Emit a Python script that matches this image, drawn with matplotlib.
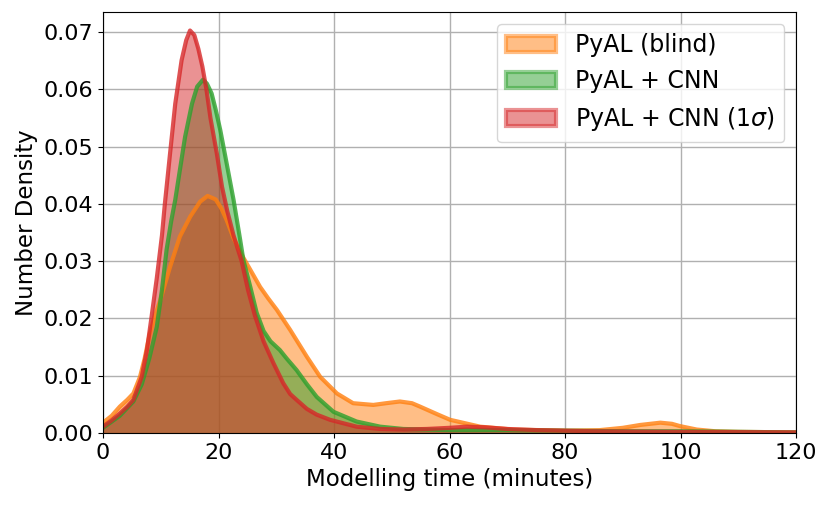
import matplotlib
matplotlib.use('Agg')
import matplotlib.pyplot as plt
from matplotlib.patches import Patch

# densities (x in minutes)
blind_x = [0, 1.5, 2.9, 4.2, 5.25, 6.4, 7.2, 8.1, 9.0, 9.9, 11.6, 13.3, 15.1, 16.8, 18.1,
           19.5, 20.5, 21.4, 22.6, 24.3, 25.5, 27.2, 28.6, 30.1, 32.4, 35.3, 37.6, 40.5,
           43.3, 46.8, 49, 51.4, 53.5, 54.9, 57.8, 60.1, 65.3, 71, 80.3, 86, 90, 93, 96.5,
           98.5, 99.9, 102.8, 106, 110, 120]
blind_y = [0.0018, 0.003, 0.0046, 0.0058, 0.0069, 0.0098, 0.013, 0.0174, 0.0205, 0.0232,
           0.029, 0.0343, 0.0378, 0.0404, 0.0414, 0.0408, 0.0392, 0.0372, 0.0340, 0.0306,
           0.0285, 0.0255, 0.0235, 0.0215, 0.0180, 0.0133, 0.0098, 0.0069, 0.0052, 0.0049,
           0.0052, 0.0055, 0.0052, 0.0046, 0.0033, 0.0023, 0.0011, 0.0006, 0.0004, 0.0005,
           0.0009, 0.0014, 0.0018, 0.0016, 0.0012, 0.0006, 0.0003, 0.0002, 0.0001]

cnn_x = [0, 2.9, 5.25, 6.7, 8.0, 9.3, 10.2, 11.0, 11.8, 12.5, 13.3, 14.2, 15.4, 16.3, 17.3,
         18.0, 18.8, 19.5, 20.3, 21.4, 22.6, 23.7, 24.3, 25.5, 26.6, 27.8, 29.0, 30.6, 31.8,
         33.5, 35.3, 37, 39.9, 43.9, 48, 52, 60, 70, 80, 90, 100, 110, 120]
cnn_y = [0.0009, 0.003, 0.0055, 0.0085, 0.013, 0.0185, 0.025, 0.032, 0.037, 0.0407,
         0.0459, 0.0517, 0.0575, 0.0605, 0.0617, 0.0610, 0.0593, 0.0565, 0.0529, 0.0471,
         0.0407, 0.0340, 0.0302, 0.0255, 0.0210, 0.0178, 0.0160, 0.0145, 0.0130, 0.0110,
         0.0085, 0.0063, 0.0037, 0.0020, 0.0011, 0.0007, 0.0005, 0.0005, 0.0004, 0.0003,
         0.0003, 0.0002, 0.0001]

sig_x = [0, 1.5, 2.9, 4.2, 5.25, 6.7, 7.6, 8.4, 9.3, 10.2, 10.7, 11.6, 12.5, 13.6, 14.4,
         15.06, 15.8, 16.5, 17.2, 17.9, 18.6, 19.7, 20.6, 21.5, 22.6, 24.0, 25.1, 26.3, 27.8,
         29.5, 31.2, 32.4, 33.5, 35.3, 37, 39.3, 43.9, 48, 52, 56, 60, 63, 66, 70, 75, 85,
         100, 120]
sig_y = [0.0011, 0.0022, 0.0034, 0.0046, 0.0058, 0.0098, 0.0145, 0.0203, 0.0270, 0.0345,
         0.0400, 0.0488, 0.0575, 0.0651, 0.0686, 0.0703, 0.0695, 0.0671, 0.0640, 0.0600,
         0.0550, 0.0488, 0.0430, 0.0388, 0.0345, 0.0300, 0.0250, 0.0205, 0.0160, 0.0122,
         0.0087, 0.0068, 0.0058, 0.0042, 0.0032, 0.0023, 0.0011, 0.0007, 0.0006, 0.0007,
         0.0009, 0.0011, 0.0010, 0.0007, 0.0005, 0.0003, 0.0002, 0.0001]

labels = ['PyAL (blind)', 'PyAL + CNN', r'PyAL + CNN (1$\sigma$)']
colors = ['tab:orange', 'tab:green', 'tab:red']

fig = plt.figure(figsize=(8.31, 5.07), dpi=100)
ax = fig.add_axes([0.124, 0.146, 0.834, 0.830])

for xs, ys, c in zip([blind_x, cnn_x, sig_x], [blind_y, cnn_y, sig_y], colors):
    ax.fill_between(xs, ys, 0, color=c, alpha=0.5, lw=0)
    ax.plot(xs, ys, color=c, lw=3, alpha=0.8, solid_joinstyle='round')

ax.set_xlim(0, 120)
ax.set_ylim(0, 0.0735)
ax.set_yticks([0, 0.01, 0.02, 0.03, 0.04, 0.05, 0.06, 0.07])
ax.grid(True, color='#b0b0b0', lw=1)
ax.set_axisbelow(True)
ax.tick_params(labelsize=16)
ax.set_xlabel('Modelling time (minutes)', fontsize=16.5)
ax.set_ylabel('Number Density', fontsize=16.5)

handles = [Patch(facecolor=c, edgecolor=c, alpha=0.5, lw=3) for c in colors]
ax.legend(handles, labels, loc='upper right', fontsize=17, handlelength=2.1)

fig.savefig('out.png', dpi=100)
